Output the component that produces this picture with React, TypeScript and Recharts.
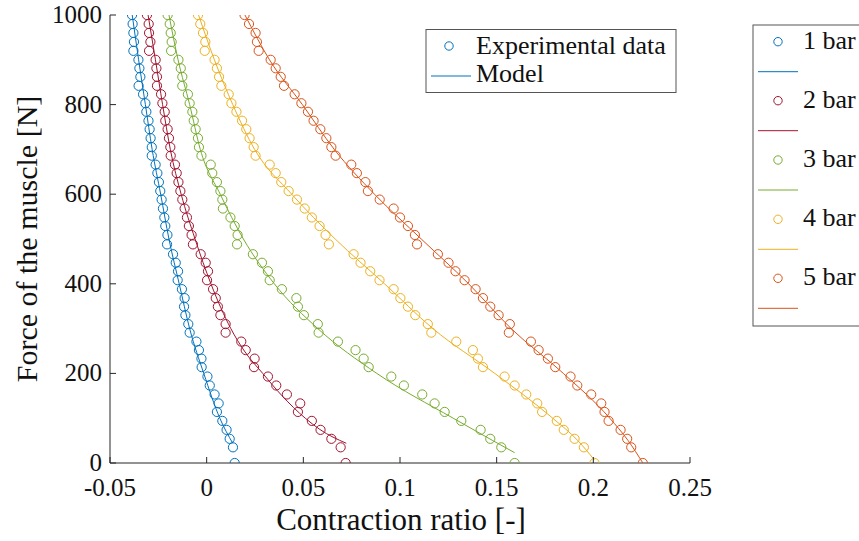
import { ScatterChart, Scatter, XAxis, YAxis } from "recharts";

// force levels shared by every pressure (N)
const force = [
  1000, 980, 960, 940, 920, 900, 881, 862, 842, 823, 803, 784, 764, 745, 725, 705, 686,
  666, 647, 627, 607, 588, 568, 548, 529, 509, 488, 466, 447, 428, 408, 388, 368, 349,
  330, 310, 291, 271, 252, 233, 214, 193, 173, 153, 133, 114, 94, 74, 54, 35, 0,
];

// measured contraction ratio, one array per pressure
const bar1 = [
  -0.0386, -0.0383, -0.0379, -0.0376, -0.0379, -0.0353, -0.0348, -0.0343, -0.0352, -0.0329,
  -0.0317, -0.0312, -0.0301, -0.0295, -0.029, -0.0284, -0.0284, -0.0264, -0.0255, -0.0247,
  -0.024, -0.0233, -0.0226, -0.0219, -0.0214, -0.0203, -0.0205, -0.0174, -0.016, -0.0148,
  -0.015, -0.0128, -0.0114, -0.0117, -0.011, -0.0095, -0.0088, -0.0053, -0.004, -0.0027,
  -0.0026, 0.0004, 0.0016, 0.0041, 0.0062, 0.0053, 0.0081, 0.0103, 0.0119, 0.0136, 0.0145,
];
const bar2 = [
  -0.0309, -0.03, -0.0298, -0.0291, -0.0298, -0.0264, -0.026, -0.0257, -0.0257, -0.0236,
  -0.0229, -0.0217, -0.0214, -0.0202, -0.0195, -0.0188, -0.0186, -0.0164, -0.0155, -0.0146,
  -0.0136, -0.0126, -0.0114, -0.0102, -0.0092, -0.0078, -0.0071, -0.0031, -0.0005, 0.0007,
  0.0002, 0.0033, 0.0047, 0.0058, 0.0071, 0.0098, 0.0098, 0.0179, 0.0202, 0.0248,
  0.0245, 0.0317, 0.036, 0.0415, 0.0484, 0.0472, 0.0544, 0.0589, 0.0645, 0.0693, 0.0719,
];
const bar3 = [
  -0.0202, -0.0191, -0.0186, -0.0181, -0.0184, -0.0146, -0.0134, -0.0126, -0.0126, -0.0097,
  -0.0088, -0.0074, -0.0067, -0.0057, -0.0045, -0.004, -0.0027, 0.0021, 0.0029, 0.0053,
  0.0071, 0.0081, 0.0084, 0.0123, 0.0145, 0.016, 0.0157, 0.0239, 0.0286, 0.0317,
  0.0326, 0.0389, 0.0464, 0.0472, 0.0503, 0.0575, 0.0579, 0.0679, 0.077, 0.0812,
  0.0838, 0.0955, 0.102, 0.1115, 0.1179, 0.1231, 0.1317, 0.1417, 0.1467, 0.1524, 0.1593,
];
const bar4 = [
  -0.0045, -0.0033, -0.0019, -0.0007, -0.001, 0.0041, 0.0053, 0.0064, 0.0076, 0.0114,
  0.0128, 0.0154, 0.0183, 0.0205, 0.0222, 0.0243, 0.0253, 0.0326, 0.0357, 0.0386,
  0.0424, 0.0467, 0.0507, 0.0544, 0.0584, 0.0615, 0.0632, 0.076, 0.0796, 0.0846,
  0.0894, 0.0967, 0.1002, 0.1041, 0.1079, 0.1144, 0.1162, 0.1291, 0.1377, 0.1403,
  0.1429, 0.1541, 0.1593, 0.1653, 0.171, 0.1735, 0.1811, 0.1847, 0.1903, 0.1951, 0.2006,
];
const bar5 = [
  0.0196, 0.0219, 0.0253, 0.026, 0.0269, 0.0331, 0.0357, 0.0383, 0.04, 0.0455,
  0.049, 0.0524, 0.0553, 0.0588, 0.0619, 0.0645, 0.0667, 0.0748, 0.0777, 0.0821,
  0.0834, 0.0895, 0.0967, 0.1, 0.1041, 0.1077, 0.1088, 0.1196, 0.1251, 0.1287,
  0.1334, 0.1391, 0.1429, 0.1467, 0.151, 0.1568, 0.1563, 0.1677, 0.1717, 0.1765,
  0.1803, 0.1882, 0.1917, 0.1989, 0.2041, 0.2058, 0.2079, 0.2141, 0.2175, 0.2196, 0.2256,
];

// model curves (force, contraction ratio)
const model1F = [1000, 900, 800, 700, 600, 500, 400, 300, 200, 100, 44];
const model1X = [-0.0385, -0.0352, -0.0317, -0.0282, -0.0238, -0.0195, -0.0142, -0.0088, -0.0015, 0.0068, 0.0135];
const model2F = [1000, 900, 800, 700, 600, 500, 400, 300, 250, 200, 150, 100, 75, 44];
const model2X = [-0.0303, -0.0265, -0.0228, -0.0188, -0.0132, -0.006, 0.0022, 0.0125, 0.0195, 0.029, 0.039, 0.051, 0.0585, 0.0722];
const model3F = [1000, 900, 800, 700, 600, 500, 400, 300, 200, 100, 50, 23];
const model3X = [-0.0195, -0.0148, -0.0088, -0.0033, 0.007, 0.019, 0.035, 0.0575, 0.088, 0.1275, 0.148, 0.1593];
const model4F = [1000, 900, 800, 700, 600, 500, 400, 300, 200, 100, 50, 7];
const model4X = [-0.0042, 0.004, 0.0135, 0.0248, 0.044, 0.0665, 0.092, 0.117, 0.149, 0.179, 0.192, 0.2005];
const model5F = [1000, 900, 800, 700, 600, 500, 400, 300, 200, 100, 50, 0];
const model5X = [0.0198, 0.0325, 0.0495, 0.066, 0.0868, 0.111, 0.1355, 0.1575, 0.1845, 0.2085, 0.218, 0.2256];

const labels = ["1 bar", "2 bar", "3 bar", "4 bar", "5 bar"];
const colors = ["#0072BD", "#A2142F", "#77AC30", "#EDB120", "#D95319"];
const xTicks = [-0.05, 0, 0.05, 0.1, 0.15, 0.2, 0.25];
const yTicks = [0, 200, 400, 600, 800, 1000];

const FONT = "'Liberation Serif', serif";
const INK = "#262626";
const txt = { fontFamily: FONT };

const measured = [bar1, bar2, bar3, bar4, bar5].map((xs) => xs.map((x, i) => ({ x, f: force[i] })));
const models = [
  [model1F, model1X],
  [model2F, model2X],
  [model3F, model3X],
  [model4F, model4X],
  [model5F, model5X],
].map(([fs, xs]) => fs.map((f, i) => ({ x: xs[i], f })));

const ring = (color: string) => (p: any) => (
  <circle cx={p.cx} cy={p.cy} r={4.6} fill="none" stroke={color} strokeWidth={1} />
);
const noDot = () => <g />;

// MATLAB style: ticks point into the plot
const XTick = ({ x, y, payload }: any) => (
  <g>
    <line x1={x} y1={y} x2={x} y2={y - 6} stroke={INK} />
    <text x={x} y={y + 33} textAnchor="middle" style={txt} fontSize={25} fill="#111">
      {String(payload.value)}
    </text>
  </g>
);

const YTick = ({ x, y, payload }: any) => (
  <g>
    <line x1={x} y1={y} x2={x + 6} y2={y} stroke={INK} />
    <text x={x - 8} y={y + 8} textAnchor="end" style={txt} fontSize={25} fill="#111">
      {String(payload.value)}
    </text>
  </g>
);

export default function App() {
  const rows = [41.7, 100.7, 160, 219.3, 278.3];
  return (
    <div style={{ position: "absolute", left: 0, top: 0, width: 859, height: 541, background: "#fff" }}>
      <ScatterChart width={859} height={541} margin={{ top: 15, right: 169, bottom: 0, left: 0 }}>
        <XAxis
          type="number"
          dataKey="x"
          domain={[-0.05, 0.25]}
          ticks={xTicks}
          height={78}
          tickSize={0}
          tickMargin={0}
          tickLine={false}
          tick={<XTick />}
          axisLine={{ stroke: INK }}
          allowDataOverflow
        />
        <YAxis
          type="number"
          dataKey="f"
          domain={[0, 1000]}
          ticks={yTicks}
          width={110}
          tickSize={0}
          tickMargin={0}
          tickLine={false}
          tick={<YTick />}
          axisLine={{ stroke: INK }}
          allowDataOverflow
        />
        {models.map((d, i) => (
          <Scatter
            key={"m" + i}
            data={d}
            fill={colors[i]}
            line={{ stroke: colors[i], strokeWidth: 1 }}
            lineJointType="monotoneX"
            shape={noDot}
            isAnimationActive={false}
          />
        ))}
        {measured.map((d, i) => (
          <Scatter key={"e" + i} data={d} fill={colors[i]} shape={ring(colors[i])} isAnimationActive={false} />
        ))}
      </ScatterChart>

      <svg width={859} height={541} style={{ position: "absolute", left: 0, top: 0, pointerEvents: "none" }}>
        <text x={401} y={530} textAnchor="middle" fontSize={31} fill="#111" style={txt}>
          Contraction ratio [-]
        </text>
        <text x={37} y={239} textAnchor="middle" fontSize={30} fill="#111" style={txt} transform="rotate(-90 37 239)">
          Force of the muscle [N]
        </text>

        <rect x={426} y={29.5} width={250} height={63} fill="#fff" stroke="#555" />
        <circle cx={449} cy={46} r={4.2} fill="none" stroke={colors[0]} />
        <text x={476} y={53.5} fontSize={26} fill="#111" style={txt}>Experimental data</text>
        <line x1={431} y1={76} x2={471} y2={76} stroke={colors[0]} />
        <text x={476} y={82} fontSize={26} fill="#111" style={txt}>Model</text>

        <rect x={753} y={25} width={120} height={301} fill="#fff" stroke="#555" />
        {labels.map((t, i) => (
          <g key={t}>
            <circle cx={778} cy={rows[i]} r={4.2} fill="none" stroke={colors[i]} />
            <text x={803} y={rows[i] + 7} fontSize={26} fill="#111" style={txt}>{t}</text>
            <line x1={758} y1={rows[i] + 30} x2={798} y2={rows[i] + 30} stroke={colors[i]} />
          </g>
        ))}
      </svg>
    </div>
  );
}
